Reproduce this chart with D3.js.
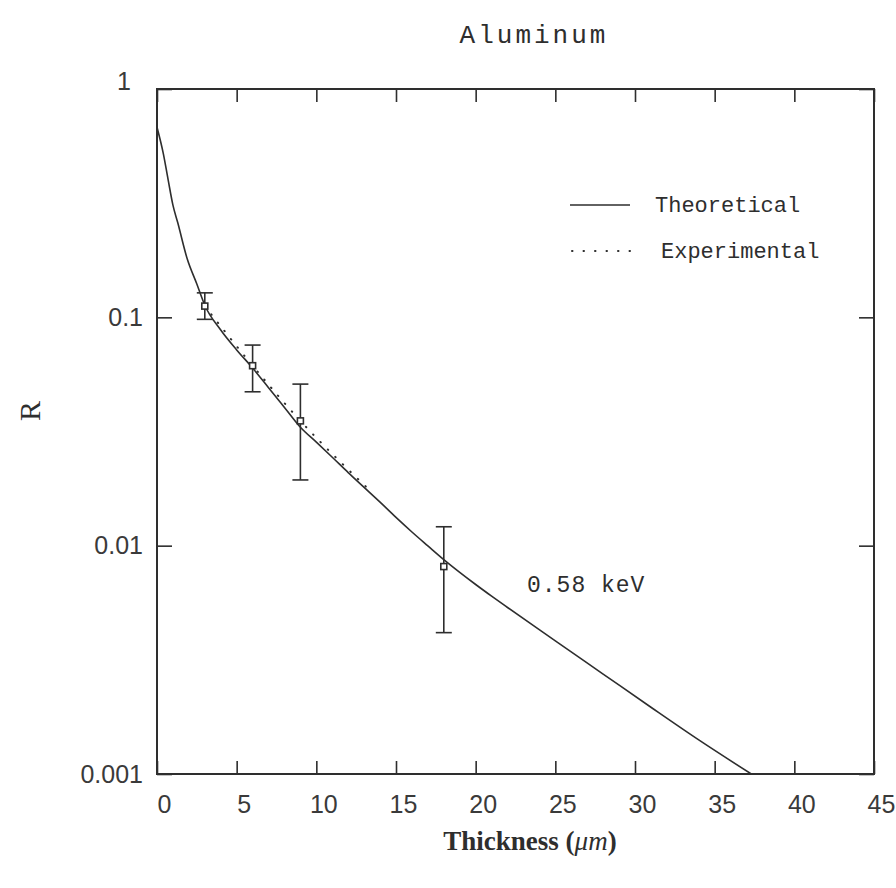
<!DOCTYPE html>
<html>
<head>
<meta charset="utf-8">
<script src="https://cdn.jsdelivr.net/npm/d3@7"></script>
<style>
  html, body { margin: 0; padding: 0; background: #ffffff; }
  svg { display: block; }
  .tick text { font-family: "Liberation Sans", "DejaVu Sans", sans-serif; font-size: 25px; fill: #3a3a3a; }
</style>
</head>
<body>
<svg id="chart" width="896" height="888"></svg>
<script>
// Theoretical transmission curve, R versus thickness (µm)
const theoryX = [0, 0.4, 0.7, 1.0, 1.3, 1.9, 2.5, 3, 4, 5, 6, 7, 8, 9, 10, 11, 12, 13, 14, 15, 16, 17, 18, 19, 20, 21, 22, 25, 28, 31, 34, 37.3];
const theoryR = [0.68, 0.52, 0.40, 0.31, 0.26, 0.18, 0.14, 0.113, 0.088, 0.072, 0.060, 0.0492, 0.0403, 0.0330,
                 0.0284, 0.0244, 0.0209, 0.0180, 0.0155, 0.0133, 0.01148, 0.00998, 0.00869, 0.00764, 0.00676,
                 0.00601, 0.00536, 0.00383, 0.00274, 0.00196, 0.00141, 0.001];

// Measured points with error bars
const measX    = [3, 6, 9, 18];
const measR    = [0.112, 0.0614, 0.0352, 0.0081];
const measLow  = [0.098, 0.0472, 0.0194, 0.00416];
const measHigh = [0.128, 0.0756, 0.051, 0.0121];

// Dotted experimental trend
const expX = [3, 6, 9, 13.2];
const expR = [0.112, 0.0614, 0.0352, 0.0179];

const xTicks = [0, 5, 10, 15, 20, 25, 30, 35, 40, 45];
const yTicks = [0.001, 0.01, 0.1, 1];
const yTickLabels = ["0.001", "0.01", "0.1", "1"];

const svg = d3.select("#chart");
const plotL = 157, plotR = 874, plotT = 89, plotB = 774;
const ink = "#2e2e2e";

const x = d3.scaleLinear().domain([0, 45]).range([plotL, plotR]);
const y = d3.scaleLog().domain([0.001, 1]).range([plotB, plotT]);

// Axes with inward ticks on all four sides
const gBottom = svg.append("g").attr("transform", `translate(0,${plotB})`)
  .call(d3.axisBottom(x).tickValues(xTicks).tickSizeInner(-13).tickSizeOuter(0).tickPadding(21).tickFormat(d3.format("d")));
gBottom.selectAll(".tick text").attr("dx", 7);
const gTop = svg.append("g").attr("transform", `translate(0,${plotT})`)
  .call(d3.axisTop(x).tickValues(xTicks).tickSizeInner(-13).tickSizeOuter(0).tickFormat(""));
const gLeft = svg.append("g").attr("transform", `translate(${plotL},0)`)
  .call(d3.axisLeft(y).tickValues(yTicks).tickSizeInner(-15).tickSizeOuter(0).tickPadding(14)
    .tickFormat(d => yTickLabels[yTicks.indexOf(d)]));
// the top label sits a little left of and above its tick
gLeft.selectAll(".tick text").filter(d => d === 1).attr("dx", -12).attr("dy", "0.0em");
const gRight = svg.append("g").attr("transform", `translate(${plotR},0)`)
  .call(d3.axisRight(y).tickValues(yTicks).tickSizeInner(-15).tickSizeOuter(0).tickFormat(""));

[gBottom, gTop, gLeft, gRight].forEach(g => {
  g.select(".domain").remove();
  g.selectAll(".tick line").attr("stroke", ink).attr("stroke-width", 1.6);
});

// Frame
svg.append("rect")
  .attr("x", plotL).attr("y", plotT)
  .attr("width", plotR - plotL).attr("height", plotB - plotT)
  .attr("fill", "none").attr("stroke", ink).attr("stroke-width", 2);

// Clip for curves
svg.append("clipPath").attr("id", "plot")
  .append("rect").attr("x", plotL).attr("y", plotT).attr("width", plotR - plotL).attr("height", plotB - plotT);

const line = d3.line().x(d => x(d[0])).y(d => y(d[1])).curve(d3.curveMonotoneX);

svg.append("path")
  .datum(theoryX.map((v, i) => [v, theoryR[i]]))
  .attr("clip-path", "url(#plot)")
  .attr("d", line)
  .attr("fill", "none").attr("stroke", ink).attr("stroke-width", 1.6);

svg.append("path")
  .datum(expX.map((v, i) => [v, expR[i]]))
  .attr("d", line)
  .attr("fill", "none").attr("stroke", ink).attr("stroke-width", 2)
  .attr("stroke-linecap", "round").attr("stroke-dasharray", "0.5,10");

// Error bars and markers
const capW = 8;
const bars = svg.append("g").attr("stroke", ink).attr("stroke-width", 1.6).attr("fill", "none");
measX.forEach((mx, i) => {
  const cx = x(mx);
  bars.append("line").attr("x1", cx).attr("x2", cx).attr("y1", y(measLow[i])).attr("y2", y(measHigh[i]));
  bars.append("line").attr("x1", cx - capW).attr("x2", cx + capW).attr("y1", y(measLow[i])).attr("y2", y(measLow[i]));
  bars.append("line").attr("x1", cx - capW).attr("x2", cx + capW).attr("y1", y(measHigh[i])).attr("y2", y(measHigh[i]));
  bars.append("rect").attr("x", cx - 3).attr("y", y(measR[i]) - 3).attr("width", 6).attr("height", 6)
    .attr("fill", "#ffffff");
});

// Legend
const mono = "'Liberation Mono', 'DejaVu Sans Mono', monospace";
svg.append("line").attr("x1", 570).attr("x2", 630).attr("y1", 205).attr("y2", 205)
  .attr("stroke", ink).attr("stroke-width", 1.6);
svg.append("text").attr("x", 655).attr("y", 212).text("Theoretical")
  .attr("font-family", mono).attr("font-size", 22).attr("fill", ink);
svg.append("line").attr("x1", 572).attr("x2", 630).attr("y1", 251).attr("y2", 251)
  .attr("stroke", ink).attr("stroke-width", 2).attr("stroke-linecap", "round").attr("stroke-dasharray", "0.5,11");
svg.append("text").attr("x", 661).attr("y", 258).text("Experimental")
  .attr("font-family", mono).attr("font-size", 22).attr("fill", ink);

// Energy annotation
svg.append("text").attr("x", 527).attr("y", 592).text("0.58 keV")
  .attr("font-family", mono).attr("font-size", 23).attr("letter-spacing", 1).attr("fill", ink);

// Title
svg.append("text").attr("x", 534).attr("y", 43).attr("text-anchor", "middle").text("Aluminum")
  .attr("font-family", mono).attr("font-size", 26).attr("letter-spacing", 3).attr("fill", ink);

// Axis titles
const xt = svg.append("text").attr("x", 530).attr("y", 850).attr("text-anchor", "middle")
  .attr("font-family", "'Liberation Serif', 'DejaVu Serif', serif").attr("font-size", 27)
  .attr("font-weight", "bold").attr("fill", ink);
xt.append("tspan").text("Thickness (");
xt.append("tspan").attr("font-style", "italic").attr("font-weight", "normal").text("\u03bcm");
xt.append("tspan").text(")");

svg.append("text").attr("transform", "translate(40,411) rotate(-90)").attr("text-anchor", "middle")
  .attr("font-family", "'Liberation Serif', 'DejaVu Serif', serif").attr("font-size", 30)
  .attr("fill", ink).text("R");
</script>
</body>
</html>
